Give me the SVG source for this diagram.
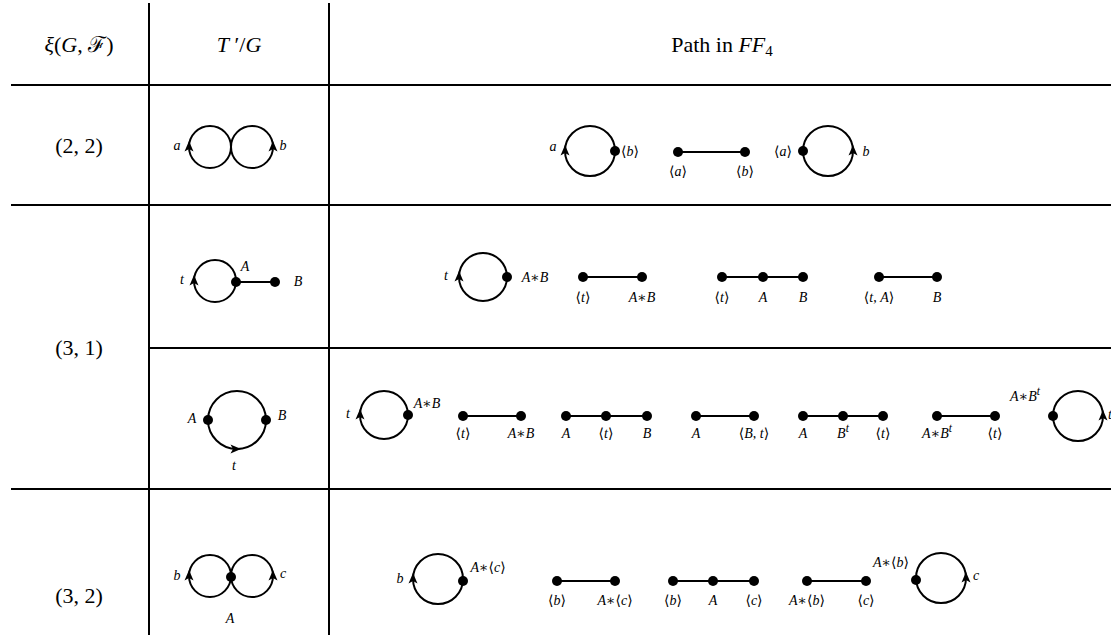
<svg xmlns="http://www.w3.org/2000/svg" xmlns:xlink="http://www.w3.org/1999/xlink" width="1111" height="635" viewBox="0 0 1111 635">
<style>
.tb{stroke:#000;stroke-width:2;fill:none}
.e{stroke:#000;stroke-width:2;fill:none}
.d{fill:#000}
.hd{font-family:"Liberation Serif","DejaVu Serif",serif;font-size:22px;text-anchor:middle;fill:#000}
.s{font-family:"Liberation Serif","DejaVu Serif",serif;font-size:14px;text-anchor:middle;fill:#000}
.i{font-style:italic}
.sp{font-size:11.5px}
</style>
<defs>
<path id="ah" d="M0,-6 L4.5,4.5 L0,2 L-4.5,4.5 Z" fill="#000"/>
</defs>
<rect width="1111" height="635" fill="#fff"/>
<g id="table">
<line class="tb" x1="149" y1="3" x2="149" y2="635"/>
<line class="tb" x1="329" y1="3" x2="329" y2="635"/>
<line class="tb" x1="11" y1="85" x2="1111" y2="85"/>
<line class="tb" x1="11" y1="205" x2="1111" y2="205"/>
<line class="tb" x1="149" y1="348" x2="1111" y2="348"/>
<line class="tb" x1="11" y1="489" x2="1111" y2="489"/>
</g>
<g id="headers">
<text class="hd" x="79" y="52"><tspan class="i">ξ</tspan>(<tspan class="i">G</tspan>, ℱ)</text>
<text class="hd" x="239" y="52"><tspan class="i">T</tspan> ′/<tspan class="i">G</tspan></text>
<text class="hd" x="722" y="52">Path in <tspan class="i">FF</tspan><tspan font-size="15px" dy="4">4</tspan></text>
<text class="hd" x="79" y="153">(2, 2)</text>
<text class="hd" x="79" y="355">(3, 1)</text>
<text class="hd" x="79" y="603">(3, 2)</text>
</g>
<g id="connectors">
<line class="e" x1="678" y1="152" x2="745" y2="152"/>
<line class="e" x1="236" y1="282" x2="275" y2="282"/>
<line class="e" x1="583" y1="277" x2="642" y2="277"/>
<line class="e" x1="722" y1="277" x2="803" y2="277"/>
<line class="e" x1="879" y1="277" x2="937" y2="277"/>
<line class="e" x1="463" y1="416" x2="521" y2="416"/>
<line class="e" x1="566" y1="416" x2="647" y2="416"/>
<line class="e" x1="696" y1="416" x2="754" y2="416"/>
<line class="e" x1="803" y1="416" x2="883" y2="416"/>
<line class="e" x1="937" y1="416" x2="995" y2="416"/>
<line class="e" x1="557" y1="581" x2="615" y2="581"/>
<line class="e" x1="673" y1="581" x2="754" y2="581"/>
<line class="e" x1="807" y1="581" x2="866" y2="581"/>
</g>
<g id="g22-quot">
<circle class="e" cx="210" cy="147" r="21"/>
<circle class="e" cx="252" cy="147" r="21"/>
<use xlink:href="#ah" x="189" y="147"/>
<use xlink:href="#ah" x="273" y="147"/>
<text class="s i" x="177" y="150">a</text>
<text class="s i" x="283" y="150">b</text>
</g>
<g id="g22-path">
<circle class="e" cx="590" cy="151" r="25"/>
<use xlink:href="#ah" x="565" y="151"/>
<circle class="d" cx="615" cy="151" r="5"/>
<text class="s i" x="553" y="151">a</text>
<text class="s" x="630" y="156">⟨<tspan class="i">b</tspan>⟩</text>
<circle class="d" cx="678" cy="152" r="5"/>
<circle class="d" cx="745" cy="152" r="5"/>
<text class="s" x="678" y="176">⟨<tspan class="i">a</tspan>⟩</text>
<text class="s" x="745" y="176">⟨<tspan class="i">b</tspan>⟩</text>
<circle class="e" cx="828" cy="151" r="25"/>
<circle class="d" cx="803" cy="151" r="5"/>
<use xlink:href="#ah" x="853" y="151"/>
<text class="s" x="783" y="156">⟨<tspan class="i">a</tspan>⟩</text>
<text class="s i" x="866" y="156">b</text>
</g>
<g id="g31a-quot">
<circle class="e" cx="215" cy="281" r="21"/>
<use xlink:href="#ah" x="194" y="281"/>
<circle class="d" cx="236" cy="282" r="5"/>
<circle class="d" cx="275" cy="282" r="5"/>
<text class="s i" x="182" y="284">t</text>
<text class="s i" x="245" y="271">A</text>
<text class="s i" x="298" y="286">B</text>
</g>
<g id="g31a-path">
<circle class="e" cx="483" cy="277" r="24"/>
<use xlink:href="#ah" x="459" y="277"/>
<circle class="d" cx="507" cy="277" r="5"/>
<text class="s i" x="446" y="280">t</text>
<text class="s i" x="535" y="282">A∗B</text>
<circle class="d" cx="583" cy="277" r="5"/>
<circle class="d" cx="642" cy="277" r="5"/>
<text class="s" x="583" y="302">⟨<tspan class="i">t</tspan>⟩</text>
<text class="s i" x="642" y="302">A∗B</text>
<circle class="d" cx="722" cy="277" r="5"/>
<circle class="d" cx="763" cy="277" r="5"/>
<circle class="d" cx="803" cy="277" r="5"/>
<text class="s" x="722" y="302">⟨<tspan class="i">t</tspan>⟩</text>
<text class="s i" x="763" y="302">A</text>
<text class="s i" x="803" y="302">B</text>
<circle class="d" cx="879" cy="277" r="5"/>
<circle class="d" cx="937" cy="277" r="5"/>
<text class="s" x="879" y="302">⟨<tspan class="i">t</tspan>, <tspan class="i">A</tspan>⟩</text>
<text class="s i" x="937" y="302">B</text>
</g>
<g id="g31b-quot">
<circle class="e" cx="237" cy="420" r="29"/>
<circle class="d" cx="208" cy="420" r="5"/>
<circle class="d" cx="266" cy="420" r="5"/>
<use xlink:href="#ah" transform="translate(235,449) rotate(90)"/>
<text class="s i" x="192" y="423">A</text>
<text class="s i" x="282" y="420">B</text>
<text class="s i" x="234" y="470">t</text>
</g>
<g id="g31b-path">
<circle class="e" cx="384" cy="415" r="24"/>
<use xlink:href="#ah" x="360" y="415"/>
<circle class="d" cx="408" cy="415" r="5"/>
<text class="s i" x="348" y="418">t</text>
<text class="s i" x="427" y="408">A∗B</text>
<circle class="d" cx="463" cy="416" r="5"/>
<circle class="d" cx="521" cy="416" r="5"/>
<text class="s" x="463" y="438">⟨<tspan class="i">t</tspan>⟩</text>
<text class="s i" x="521" y="438">A∗B</text>
<circle class="d" cx="566" cy="416" r="5"/>
<circle class="d" cx="606" cy="416" r="5"/>
<circle class="d" cx="647" cy="416" r="5"/>
<text class="s i" x="566" y="438">A</text>
<text class="s" x="606" y="438">⟨<tspan class="i">t</tspan>⟩</text>
<text class="s i" x="647" y="438">B</text>
<circle class="d" cx="696" cy="416" r="5"/>
<circle class="d" cx="754" cy="416" r="5"/>
<text class="s i" x="696" y="438">A</text>
<text class="s" x="754" y="438">⟨<tspan class="i">B</tspan>, <tspan class="i">t</tspan>⟩</text>
<circle class="d" cx="803" cy="416" r="5"/>
<circle class="d" cx="843" cy="416" r="5"/>
<circle class="d" cx="883" cy="416" r="5"/>
<text class="s i" x="803" y="438">A</text>
<text class="s i" x="843" y="438">B<tspan class="sp" dy="-6">t</tspan></text>
<text class="s" x="883" y="438">⟨<tspan class="i">t</tspan>⟩</text>
<circle class="d" cx="937" cy="416" r="5"/>
<circle class="d" cx="995" cy="416" r="5"/>
<text class="s i" x="937" y="438">A∗B<tspan class="sp" dy="-6">t</tspan></text>
<text class="s" x="995" y="438">⟨<tspan class="i">t</tspan>⟩</text>
<circle class="e" cx="1078" cy="416" r="25"/>
<circle class="d" cx="1053" cy="416" r="5"/>
<use xlink:href="#ah" x="1103" y="416"/>
<text class="s i" x="1025" y="401">A∗B<tspan class="sp" dy="-6">t</tspan></text>
<text class="s i" x="1110" y="419" text-anchor="end">t</text>
</g>
<g id="g32-quot">
<circle class="e" cx="210" cy="576" r="21"/>
<circle class="e" cx="252" cy="576" r="21"/>
<circle class="d" cx="231" cy="577" r="5"/>
<use xlink:href="#ah" x="189" y="576"/>
<use xlink:href="#ah" x="273" y="576"/>
<text class="s i" x="177" y="580">b</text>
<text class="s i" x="283" y="578">c</text>
<text class="s i" x="230" y="623">A</text>
</g>
<g id="g32-path">
<circle class="e" cx="438" cy="579" r="25"/>
<use xlink:href="#ah" x="413" y="579"/>
<circle class="d" cx="463" cy="581" r="5"/>
<text class="s i" x="400" y="583">b</text>
<text class="s" x="488" y="572"><tspan class="i">A</tspan>∗⟨<tspan class="i">c</tspan>⟩</text>
<circle class="d" cx="557" cy="581" r="5"/>
<circle class="d" cx="615" cy="581" r="5"/>
<text class="s" x="557" y="605">⟨<tspan class="i">b</tspan>⟩</text>
<text class="s" x="615" y="605"><tspan class="i">A</tspan>∗⟨<tspan class="i">c</tspan>⟩</text>
<circle class="d" cx="673" cy="581" r="5"/>
<circle class="d" cx="713" cy="581" r="5"/>
<circle class="d" cx="754" cy="581" r="5"/>
<text class="s" x="673" y="605">⟨<tspan class="i">b</tspan>⟩</text>
<text class="s i" x="713" y="605">A</text>
<text class="s" x="754" y="605">⟨<tspan class="i">c</tspan>⟩</text>
<circle class="d" cx="807" cy="581" r="5"/>
<circle class="d" cx="866" cy="581" r="5"/>
<text class="s" x="807" y="605"><tspan class="i">A</tspan>∗⟨<tspan class="i">b</tspan>⟩</text>
<text class="s" x="866" y="605">⟨<tspan class="i">c</tspan>⟩</text>
<circle class="e" cx="941" cy="578" r="25"/>
<circle class="d" cx="916" cy="580" r="5"/>
<use xlink:href="#ah" x="966" y="578"/>
<text class="s i" x="976" y="580">c</text>
<text class="s" x="891" y="567"><tspan class="i">A</tspan>∗⟨<tspan class="i">b</tspan>⟩</text>
</g>
</svg>
